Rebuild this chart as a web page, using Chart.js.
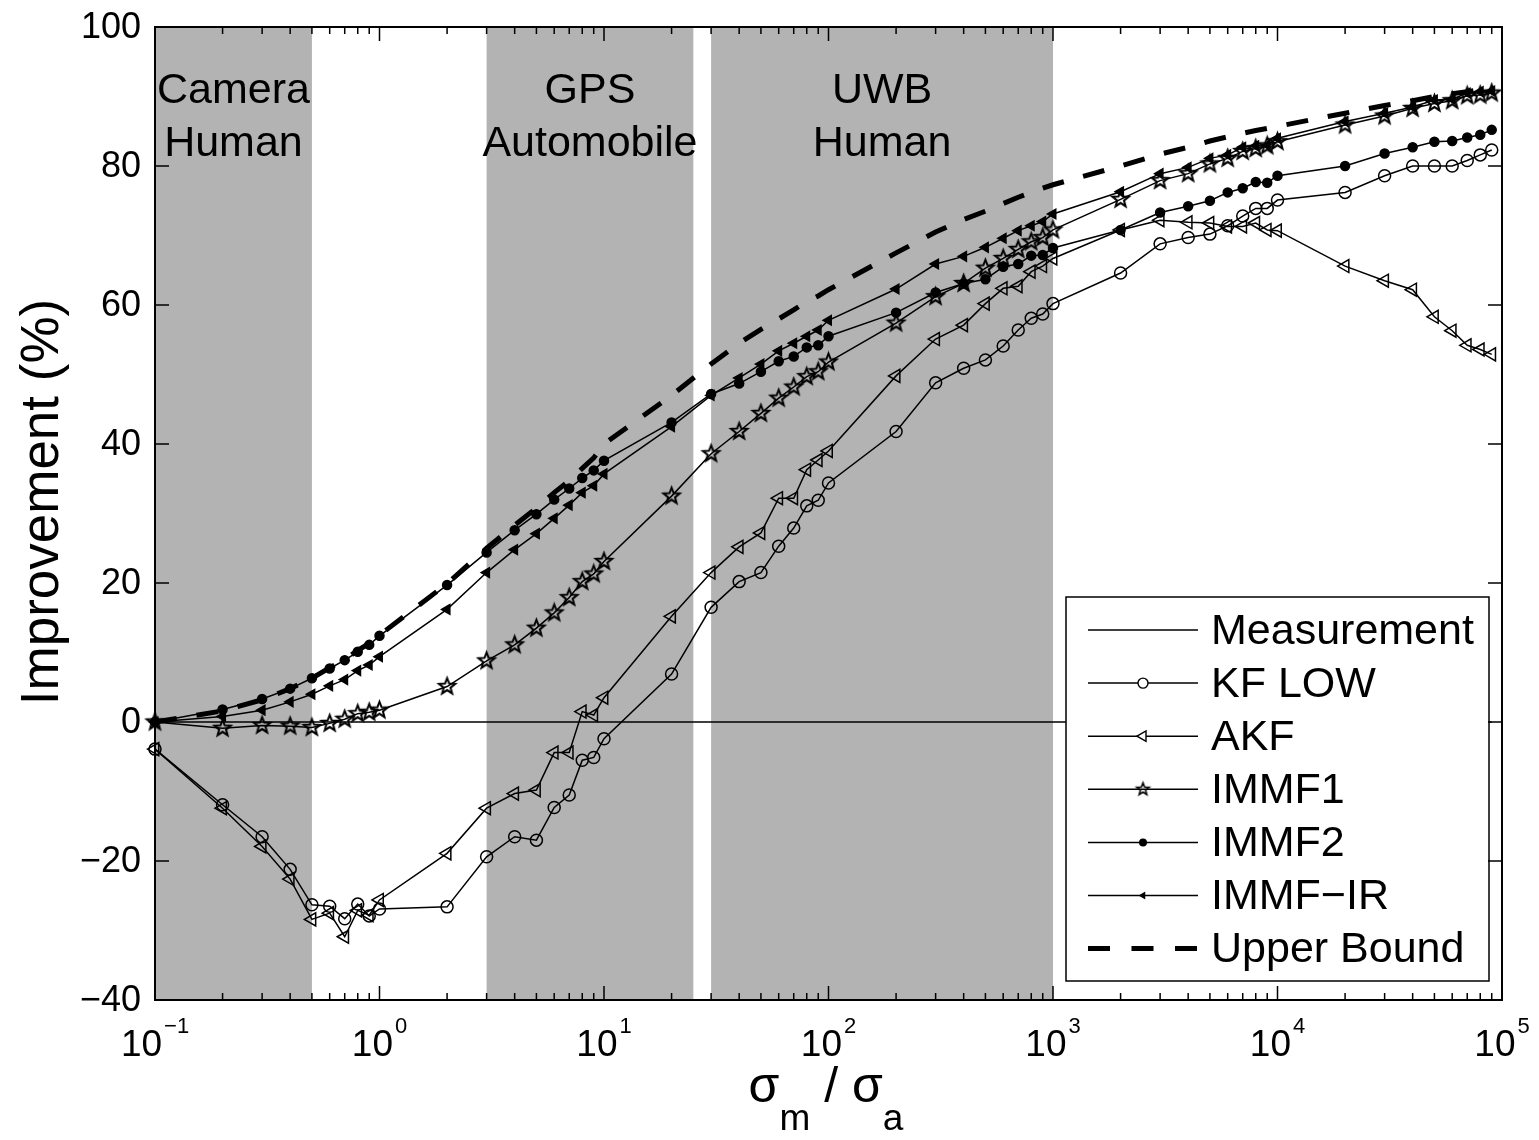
<!DOCTYPE html>
<html>
<head>
<meta charset="utf-8">
<script src="https://cdn.jsdelivr.net/npm/chart.js@4.4.1/dist/chart.umd.min.js"></script>
<style>
  html, body { margin: 0; padding: 0; background: #fff; }
  canvas { display: block; background: #fff; }
</style>
</head>
<body>
<canvas id="chart" width="1539" height="1140"></canvas>
<script>
// sigma_m / sigma_a values (log axis)
const xValues = [
  0.1, 0.2, 0.3, 0.4, 0.5, 0.6, 0.7, 0.8, 0.9,
  1, 2, 3, 4, 5, 6, 7, 8, 9,
  10, 20, 30, 40, 50, 60, 70, 80, 90,
  100, 200, 300, 400, 500, 600, 700, 800, 900,
  1000, 2000, 3000, 4000, 5000, 6000, 7000, 8000, 9000,
  10000, 20000, 30000, 40000, 50000, 60000, 70000, 80000, 90000
];

const measurementX = [0.1, 90000];
const measurementY = [0, 0];

const kfLow = [
  -3.9, -11.9, -16.5, -21.2, -26.3, -26.5, -28.3, -26.2, -27.9,
  -26.9, -26.6, -19.4, -16.5, -17.0, -12.3, -10.5, -5.5, -5.1,
  -2.4, 6.9, 16.5, 20.2, 21.5, 25.3, 27.9, 31.1, 31.9,
  34.4, 41.8, 48.8, 50.9, 52.1, 54.1, 56.4, 58.1, 58.7,
  60.2, 64.6, 68.8, 69.7, 70.2, 71.4, 72.8, 73.9, 73.9,
  75.1, 76.2, 78.6, 80.0, 80.0, 80.0, 80.8, 81.6, 82.3
];

const akf = [
  -3.9, -12.4, -17.9, -22.6, -28.4, -27.5, -30.9, -27.1, -27.8,
  -25.6, -18.9, -12.4, -10.3, -9.8, -4.4, -4.4, 1.5, 1.0,
  3.5, 15.2, 21.5, 25.2, 27.2, 32.2, 32.2, 36.3, 37.7,
  39.0, 49.8, 55.1, 57.1, 60.2, 62.4, 62.7, 64.8, 65.6,
  66.7, 70.8, 72.2, 71.9, 71.8, 71.3, 71.3, 71.8, 70.8,
  70.7, 65.6, 63.5, 62.2, 58.3, 56.3, 54.2, 53.6, 52.9
];

const immf1 = [
  0, -0.9, -0.5, -0.6, -0.8, -0.2, 0.4, 1.2, 1.4,
  1.7, 5.1, 8.8, 11.1, 13.5, 15.7, 17.9, 20.2, 21.3,
  23.1, 32.5, 38.6, 41.8, 44.4, 46.6, 48.2, 49.7, 50.4,
  51.8, 57.4, 61.2, 63.1, 65.3, 66.7, 68.0, 69.1, 69.7,
  70.8, 75.2, 77.9, 78.9, 80.3, 81.1, 82.1, 82.5, 82.9,
  83.5, 85.9, 87.2, 88.3, 89.0, 89.4, 90.1, 90.2, 90.5
];

const immf2 = [
  0, 1.8, 3.3, 4.8, 6.3, 7.7, 8.9, 10.1, 11.1,
  12.4, 19.7, 24.4, 27.6, 29.9, 32.0, 33.6, 35.1, 36.2,
  37.6, 43.1, 47.2, 48.7, 50.4, 51.9, 52.6, 53.9, 54.2,
  55.5, 58.9, 61.8, 63.1, 63.7, 65.5, 65.9, 67.1, 67.2,
  68.2, 70.8, 73.3, 74.2, 75.0, 76.2, 76.8, 77.7, 77.6,
  78.6, 80.0, 81.8, 82.7, 83.5, 83.6, 84.1, 84.5, 85.2
];

const immfIr = [
  0, 0.8, 1.7, 2.9, 4.0, 5.2, 6.1, 7.4, 8.2,
  9.4, 16.2, 21.5, 24.8, 27.1, 29.3, 31.2, 33.0, 34.0,
  35.7, 42.5, 47.0, 49.5, 51.5, 53.4, 54.5, 55.5, 56.4,
  57.8, 62.3, 65.9, 67.0, 68.3, 69.6, 70.7, 71.4, 72.0,
  73.1, 76.3, 78.9, 79.8, 81.1, 81.6, 82.7, 82.9, 83.0,
  84.0, 86.4, 87.6, 88.5, 89.5, 89.6, 90.5, 90.7, 90.8
];

const upperBound = [
  0, 1.6, 3.2, 4.8, 6.3, 7.8, 9.0, 10.3, 11.3,
  12.5, 19.9, 25.0, 28.3, 30.8, 33.0, 34.7, 36.5, 38.0,
  40.0, 47.0, 51.5, 54.5, 56.5, 58.0, 59.3, 60.5, 61.3,
  62.2, 67.5, 70.5, 72.3, 73.5, 74.6, 75.5, 76.2, 76.8,
  77.3, 80.0, 81.7, 82.7, 83.6, 84.2, 84.7, 85.1, 85.4,
  85.7, 87.6, 88.7, 89.4, 90.0, 90.4, 90.7, 91.0, 91.2
];

const seriesNames = ['Measurement', 'KF LOW', 'AKF', 'IMMF1', 'IMMF2', 'IMMF\u2212IR', 'Upper Bound'];

// shaded application ranges
const regions = [
  { from: 0.1, to: 0.5, lines: ['Camera', 'Human'] },
  { from: 3, to: 25, lines: ['GPS', 'Automobile'] },
  { from: 30, to: 1000, lines: ['UWB', 'Human'] }
];

const xTickValues = [0.1, 1, 10, 100, 1000, 10000, 100000];
const xTickExponents = ['\u22121', '0', '1', '2', '3', '4', '5'];
const yTickValues = [100, 80, 60, 40, 20, 0, -20, -40];
const yTickLabels = ['100', '80', '60', '40', '20', '0', '\u221220', '\u221240'];

const FONT = '"Liberation Sans", Arial, Helvetica, sans-serif';

function makeStar(outer, lw) {
  const size = Math.ceil(outer * 2 + lw * 2 + 2);
  const c = document.createElement('canvas');
  c.width = size;
  c.height = size;
  const g = c.getContext('2d');
  const cx = size / 2, cy = size / 2, inner = outer * 0.42;
  g.beginPath();
  for (let i = 0; i < 10; i++) {
    const r = i % 2 === 0 ? outer : inner;
    const a = -Math.PI / 2 + i * Math.PI / 5;
    const px = cx + r * Math.cos(a), py = cy + r * Math.sin(a);
    if (i === 0) g.moveTo(px, py); else g.lineTo(px, py);
  }
  g.closePath();
  g.lineWidth = lw;
  g.strokeStyle = '#000';
  g.lineJoin = 'miter';
  g.stroke();
  return c;
}

const starPlot = makeStar(8.5, 2);
const starLegend = makeStar(6.5, 1.6);

function pts(xs, ys) {
  return xs.map((x, i) => ({ x, y: ys[i] }));
}

function lineSet(label, data, extra) {
  return Object.assign({
    label,
    data,
    showLine: true,
    borderColor: '#000',
    borderWidth: 1.5,
    pointBorderColor: '#000',
    pointBorderWidth: 1.5,
    pointBackgroundColor: 'rgba(0,0,0,0)',
    pointRadius: 0,
    tension: 0,
    clip: false
  }, extra);
}

const datasets = [
  lineSet(seriesNames[0], pts(measurementX, measurementY), { order: 6 }),
  lineSet(seriesNames[1], pts(xValues, kfLow), { pointStyle: 'circle', pointRadius: 6, order: 5 }),
  lineSet(seriesNames[2], pts(xValues, akf), { pointStyle: 'triangle', pointRotation: -90, pointRadius: 7.5, order: 4 }),
  lineSet(seriesNames[3], pts(xValues, immf1), { pointStyle: starPlot, pointRadius: 8, order: 3 }),
  lineSet(seriesNames[4], pts(xValues, immf2), { pointStyle: 'circle', pointRadius: 4.5, pointBackgroundColor: '#000', order: 2 }),
  lineSet(seriesNames[5], pts(xValues, immfIr), { pointStyle: 'triangle', pointRotation: -90, pointRadius: 5.5, pointBackgroundColor: '#000', order: 1 }),
  lineSet(seriesNames[6], pts(xValues, upperBound), { borderWidth: 5, borderDash: [22, 20], borderCapStyle: 'butt', order: 0 })
];

const legendMarkers = [
  null,
  { type: 'circle', r: 5, fill: false },
  { type: 'triangle', r: 6, fill: false },
  { type: 'star' },
  { type: 'circle', r: 4, fill: true },
  { type: 'triangle', r: 4.5, fill: true },
  null
];

function drawMarker(ctx, m, x, y) {
  ctx.save();
  ctx.strokeStyle = '#000';
  ctx.fillStyle = '#000';
  ctx.lineWidth = 1.4;
  if (m.type === 'star') {
    ctx.drawImage(starLegend, x - starLegend.width / 2, y - starLegend.height / 2);
  } else if (m.type === 'circle') {
    ctx.beginPath();
    ctx.arc(x, y, m.r, 0, Math.PI * 2);
    if (m.fill) ctx.fill(); else { ctx.fillStyle = '#fff'; ctx.fill(); ctx.stroke(); }
  } else if (m.type === 'triangle') {
    ctx.beginPath();
    for (let i = 0; i < 3; i++) {
      const a = Math.PI + i * 2 * Math.PI / 3;
      const px = x + m.r * Math.cos(a), py = y + m.r * Math.sin(a);
      if (i === 0) ctx.moveTo(px, py); else ctx.lineTo(px, py);
    }
    ctx.closePath();
    if (m.fill) ctx.fill(); else { ctx.fillStyle = '#fff'; ctx.fill(); ctx.stroke(); }
  }
  ctx.restore();
}

const decor = {
  id: 'decor',
  beforeDatasetsDraw(chart) {
    const { ctx, chartArea: a, scales: { x } } = chart;
    ctx.save();
    ctx.fillStyle = '#b3b3b3';
    regions.forEach((r) => {
      const x0 = x.getPixelForValue(r.from);
      const x1 = x.getPixelForValue(r.to);
      ctx.fillRect(x0, a.top, x1 - x0, a.bottom - a.top);
    });
    ctx.fillStyle = '#000';
    ctx.font = '43px ' + FONT;
    ctx.textAlign = 'center';
    ctx.textBaseline = 'alphabetic';
    regions.forEach((r) => {
      const cx = (x.getPixelForValue(r.from) + x.getPixelForValue(r.to)) / 2;
      ctx.fillText(r.lines[0], cx, a.top + 76);
      ctx.fillText(r.lines[1], cx, a.top + 129);
    });
    ctx.restore();
  },
  afterDatasetsDraw(chart) {
    const { ctx } = chart;
    // legend box
    const bx = 1066, by = 597, bw = 423, bh = 384;
    ctx.save();
    ctx.fillStyle = '#fff';
    ctx.fillRect(bx, by, bw, bh);
    ctx.strokeStyle = '#000';
    ctx.lineWidth = 1.5;
    ctx.strokeRect(bx, by, bw, bh);
    ctx.font = '43px ' + FONT;
    ctx.textAlign = 'left';
    ctx.textBaseline = 'middle';
    seriesNames.forEach((name, i) => {
      const y = by + 33 + i * 53.1;
      ctx.save();
      ctx.strokeStyle = '#000';
      if (i === 6) {
        ctx.lineWidth = 5;
        ctx.setLineDash([22, 21.5]);
      } else {
        ctx.lineWidth = 1.5;
      }
      ctx.beginPath();
      ctx.moveTo(1088, y);
      ctx.lineTo(1198, y);
      ctx.stroke();
      ctx.restore();
      if (legendMarkers[i]) drawMarker(ctx, legendMarkers[i], 1143, y);
      ctx.fillStyle = '#000';
      ctx.fillText(name, 1211, y + 2);
    });
    ctx.restore();
  },
  afterDraw(chart) {
    const { ctx, chartArea: a, scales: { x, y } } = chart;
    ctx.save();
    ctx.strokeStyle = '#000';
    // ticks
    ctx.lineWidth = 1.5;
    ctx.beginPath();
    for (let e = -1; e < 5; e++) {
      for (let m = 1; m < 10; m++) {
        const v = m * Math.pow(10, e);
        const px = x.getPixelForValue(v);
        const len = m === 1 ? 14 : 7;
        ctx.moveTo(px, a.bottom); ctx.lineTo(px, a.bottom - len);
        ctx.moveTo(px, a.top); ctx.lineTo(px, a.top + len);
      }
    }
    yTickValues.forEach((v) => {
      const py = y.getPixelForValue(v);
      ctx.moveTo(a.left, py); ctx.lineTo(a.left + 14, py);
      ctx.moveTo(a.right, py); ctx.lineTo(a.right - 14, py);
    });
    ctx.stroke();
    // frame
    ctx.lineWidth = 2;
    ctx.strokeRect(a.left, a.top, a.right - a.left, a.bottom - a.top);

    // y tick labels
    ctx.fillStyle = '#000';
    ctx.font = '36px ' + FONT;
    ctx.textAlign = 'right';
    ctx.textBaseline = 'middle';
    yTickValues.forEach((v, i) => {
      ctx.fillText(yTickLabels[i], a.left - 14, y.getPixelForValue(v) + 1);
    });

    // x tick labels 10^n, centred on the tick
    ctx.textBaseline = 'alphabetic';
    ctx.textAlign = 'left';
    xTickValues.forEach((v, i) => {
      const px = x.getPixelForValue(v);
      ctx.font = '37px ' + FONT;
      const wBase = ctx.measureText('10').width;
      ctx.font = '22px ' + FONT;
      const wExp = ctx.measureText(xTickExponents[i]).width;
      const left = px - (wBase + 2 + wExp) / 2;
      ctx.font = '37px ' + FONT;
      ctx.fillText('10', left, a.bottom + 56);
      ctx.font = '22px ' + FONT;
      ctx.fillText(xTickExponents[i], left + wBase + 2, a.bottom + 33);
    });

    // y axis title
    ctx.save();
    ctx.translate(58, 502);
    ctx.rotate(-Math.PI / 2);
    ctx.font = '53px ' + FONT;
    ctx.textAlign = 'center';
    ctx.textBaseline = 'alphabetic';
    ctx.fillText('Improvement (%)', 0, 0);
    ctx.restore();

    // x axis title: sigma_m / sigma_a
    const parts = [
      { t: '\u03c3', f: 50, dy: 0 },
      { t: 'm', f: 37, dy: 28 },
      { t: ' / ', f: 50, dy: 0 },
      { t: '\u03c3', f: 50, dy: 0 },
      { t: 'a', f: 37, dy: 28 }
    ];
    let total = 0;
    parts.forEach((p) => { ctx.font = p.f + 'px ' + FONT; p.w = ctx.measureText(p.t).width; total += p.w; });
    let cx = 826 - total / 2;
    ctx.textAlign = 'left';
    parts.forEach((p) => {
      ctx.font = p.f + 'px ' + FONT;
      ctx.fillText(p.t, cx, 1102 + p.dy);
      cx += p.w;
    });
    ctx.restore();
  }
};

new Chart(document.getElementById('chart'), {
  type: 'scatter',
  data: { datasets },
  options: {
    responsive: false,
    animation: false,
    events: [],
    layout: { padding: { left: 155, top: 27, right: 37, bottom: 140 } },
    plugins: { legend: { display: false }, tooltip: { enabled: false } },
    scales: {
      x: { type: 'logarithmic', min: 0.1, max: 100000, display: false },
      y: { type: 'linear', min: -40, max: 100, display: false }
    }
  },
  plugins: [decor]
});
</script>
</body>
</html>
